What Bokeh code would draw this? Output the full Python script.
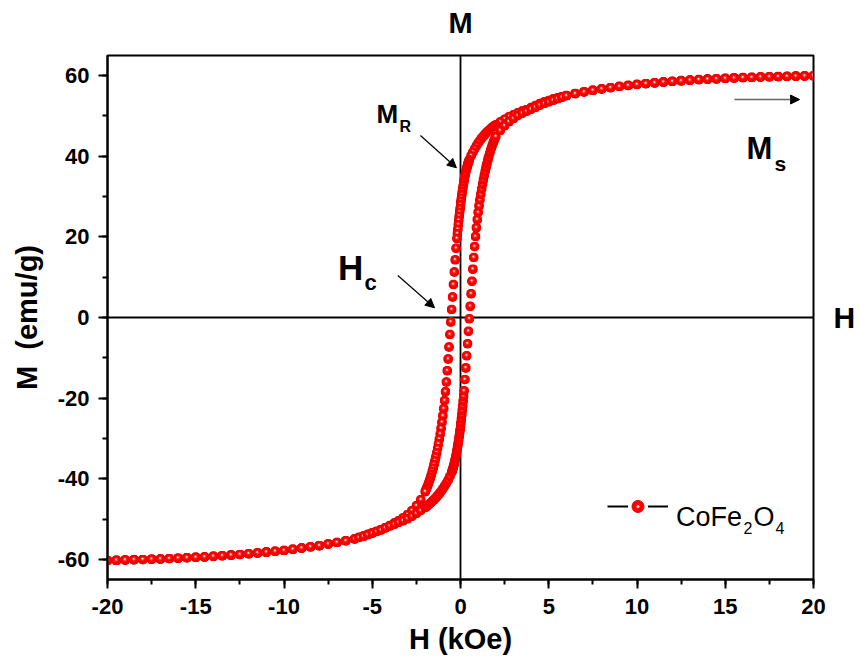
import base64
import numpy as np
from bokeh.plotting import figure
from bokeh.models import (Range1d, LinearAxis, FixedTicker, SingleIntervalTicker, Span,
                          Label, Arrow, NormalHead, ColumnDataSource, Legend, LegendItem)
from bokeh.core.properties import value
from bokeh.embed import file_html
from bokeh.resources import INLINE

FONT = "Liberation Sans"

# ---- hysteresis loop of CoFe2O4: field sweep +20 -> -20 kOe (descending) ----
H_down = [20, 19.5, 19, 18.5, 18, 17.5, 17, 16.5, 16, 15.5, 15, 14.5, 14, 13.5, 13, 12.5, 12,
          11.5, 11, 10.5, 10, 9.5, 9, 8.5, 8, 7.5, 7, 6.5, 6,
          5.75, 5.5, 5.25, 5, 4.75, 4.5, 4.25, 4, 3.75, 3.5, 3.25, 3, 2.75, 2.5, 2.25, 2,
          1.9, 1.8, 1.7, 1.6, 1.5, 1.4, 1.3, 1.2, 1.1, 1.0, 0.9, 0.8, 0.7, 0.6, 0.5,
          0.475, 0.45, 0.425, 0.4, 0.375, 0.35, 0.325, 0.3, 0.275, 0.25, 0.225, 0.2, 0.175,
          0.15, 0.125, 0.1, 0.075, 0.05, 0.025, 0, -0.025, -0.05, -0.075, -0.1, -0.125,
          -0.15, -0.175, -0.2,
          -0.25, -0.3, -0.35, -0.4, -0.45, -0.5, -0.55, -0.6, -0.65, -0.7, -0.75, -0.8,
          -0.85, -0.9, -0.95, -1.0, -1.05, -1.1, -1.15, -1.2, -1.25, -1.3, -1.35, -1.4,
          -1.45, -1.5, -1.55, -1.6, -1.65, -1.7, -1.75, -1.8, -1.85, -1.9, -1.95, -2.0,
          -2.25, -2.5, -2.75, -3, -3.25, -3.5, -3.75, -4, -4.25, -4.5, -4.75, -5, -5.25,
          -5.5, -5.75, -6,
          -6.5, -7, -7.5, -8, -8.5, -9, -9.5, -10, -10.5, -11, -11.5, -12, -12.5, -13,
          -13.5, -14, -14.5, -15, -15.5, -16, -16.5, -17, -17.5, -18, -18.5, -19, -19.5, -20]
M_down = [60.0, 59.95, 59.9, 59.85, 59.8, 59.75, 59.7, 59.6, 59.55, 59.45, 59.35, 59.25, 59.15,
          59.05, 58.9, 58.8, 58.6, 58.45, 58.25, 58.05, 57.85, 57.6, 57.35, 57.05, 56.75, 56.4,
          56.0, 55.6, 55.1,
          54.8, 54.5, 54.2, 53.85, 53.5, 53.1, 52.6, 52.1, 51.6, 51.2, 50.8, 50.3, 49.8, 49.2,
          48.5, 47.8,
          47.5, 47.2, 46.8, 46.4, 46.0, 45.5, 45.0, 44.5, 43.9, 43.3, 42.6, 41.8, 41.0, 40.1, 39.1,
          38.8, 38.5, 38.2, 37.8, 37.4, 37.0, 36.6, 36.1, 35.6, 35.1, 34.5, 33.9, 33.3, 32.6,
          31.9, 31.2, 30.4, 29.6, 28.8, 27.9, 27.0, 26.1, 25.1, 24.1, 23.0, 21.9, 20.8, 19.6,
          17.2, 14.3, 11.3, 8.2, 5.1, 2.0, -1.1, -4.2, -7.3, -10.3, -13.2, -16.0, -18.4, -20.6,
          -22.6, -24.4, -26.0, -27.5, -28.9, -30.2, -31.4, -32.5, -33.6, -34.6, -35.6, -36.5,
          -37.4, -38.2, -39.0, -39.7, -40.4, -41.0, -41.6, -42.2, -42.7, -43.2,
          -45.2, -46.7, -47.9, -48.9, -49.7, -50.4, -51.0, -51.6, -52.1, -52.6, -53.0, -53.4,
          -53.8, -54.2, -54.5, -54.9,
          -55.4, -55.8, -56.2, -56.6, -56.9, -57.2, -57.5, -57.8, -58.0, -58.2, -58.4, -58.6,
          -58.8, -58.95, -59.1, -59.25, -59.4, -59.5, -59.6, -59.7, -59.8, -59.9, -59.95,
          -60.05, -60.1, -60.15, -60.25, -60.3]

# ---- return sweep -20 -> +20 kOe (ascending) ----
H_up = [-20, -19.5, -19, -18.5, -18, -17.5, -17, -16.5, -16, -15.5, -15, -14.5, -14, -13.5,
        -13, -12.5, -12, -11.5, -11, -10.5, -10, -9.5, -9, -8.5, -8, -7.5, -7, -6.5, -6,
        -5.75, -5.5, -5.25, -5, -4.75, -4.5, -4.25, -4, -3.75, -3.5, -3.25, -3, -2.75, -2.5,
        -2.25, -2,
        -1.9, -1.8, -1.7, -1.6, -1.5, -1.4, -1.3, -1.2, -1.1, -1.0, -0.9, -0.8, -0.7, -0.6, -0.5,
        -0.475, -0.45, -0.425, -0.4, -0.375, -0.35, -0.325, -0.3, -0.275, -0.25, -0.225, -0.2,
        -0.175, -0.15, -0.125, -0.1, -0.075, -0.05, -0.025, 0, 0.025, 0.05, 0.075, 0.1, 0.125,
        0.15, 0.175, 0.2,
        0.25, 0.3, 0.35, 0.4, 0.45, 0.5, 0.55, 0.6, 0.65, 0.7, 0.75, 0.8, 0.85, 0.9, 0.95, 1.0,
        1.05, 1.1, 1.15, 1.2, 1.25, 1.3, 1.35, 1.4, 1.45, 1.5, 1.55, 1.6, 1.65, 1.7, 1.75, 1.8,
        1.85, 1.9, 1.95, 2.0,
        2.25, 2.5, 2.75, 3, 3.25, 3.5, 3.75, 4, 4.25, 4.5, 4.75, 5, 5.25, 5.5, 5.75, 6,
        6.5, 7, 7.5, 8, 8.5, 9, 9.5, 10, 10.5, 11, 11.5, 12, 12.5, 13, 13.5, 14, 14.5, 15,
        15.5, 16, 16.5, 17, 17.5, 18, 18.5, 19, 19.5, 20]
M_up = [-60.3, -60.25, -60.15, -60.1, -60.05, -59.95, -59.9, -59.8, -59.7, -59.6, -59.5, -59.4,
        -59.25, -59.1, -58.95, -58.8, -58.6, -58.4, -58.2, -58.0, -57.8, -57.5, -57.2, -56.9,
        -56.6, -56.2, -55.8, -55.4, -54.95,
        -54.6, -54.3, -53.9, -53.5, -53.1, -52.7, -52.2, -51.7, -51.3, -50.8, -50.4, -49.9,
        -49.3, -48.6, -47.9, -47.1,
        -46.8, -46.4, -46.0, -45.6, -45.2, -44.7, -44.2, -43.7, -43.1, -42.5, -41.8, -41.1,
        -40.3, -39.4, -38.4,
        -38.1, -37.8, -37.4, -37.0, -36.6, -36.2, -35.7, -35.2, -34.7, -34.2, -33.6, -33.0,
        -32.4, -31.7, -31.0, -30.3, -29.5, -28.7, -27.9, -27.0, -26.1, -25.1, -24.1, -23.0,
        -21.9, -20.7, -19.5, -18.2,
        -15.4, -12.5, -9.5, -6.5, -3.4, -0.3, 2.8, 5.9, 9.0, 12.0, 14.9, 17.6, 20.1, 22.3, 24.3,
        26.1, 27.7, 29.2, 30.6, 31.9, 33.1, 34.2, 35.3, 36.3, 37.3, 38.2, 39.1, 39.9, 40.7,
        41.4, 42.1, 42.7, 43.3, 43.9, 44.4, 44.9,
        46.4, 47.6, 48.6, 49.4, 50.1, 50.7, 51.2, 51.7, 52.2, 52.7, 53.1, 53.5, 53.9, 54.3,
        54.65, 55.0,
        55.5, 55.95, 56.35, 56.7, 57.0, 57.3, 57.55, 57.8, 58.0, 58.2, 58.4, 58.55, 58.7, 58.85,
        59.0, 59.1, 59.2, 59.3, 59.4, 59.5, 59.55, 59.65, 59.7, 59.75, 59.8, 59.85, 59.9, 59.95]

x_ticks = [-20, -15, -10, -5, 0, 5, 10, 15, 20]
y_ticks = [-60, -40, -20, 0, 20, 40, 60]

p = figure(width=860, height=664, x_range=Range1d(-20, 20), y_range=Range1d(-65, 65),
           output_backend="svg", toolbar_location=None,
           min_border_left=107, min_border_right=47, min_border_top=55, min_border_bottom=85)
p.background_fill_color = "white"
p.border_fill_color = "white"
p.grid.visible = False
p.outline_line_color = "black"
p.outline_line_width = 2

p.xaxis.ticker = SingleIntervalTicker(interval=5, num_minor_ticks=2)
p.yaxis.ticker = SingleIntervalTicker(interval=20, num_minor_ticks=2)
# plain hyphen-minus in tick labels
p.xaxis.major_label_overrides = {t: str(t) for t in x_ticks}
p.yaxis.major_label_overrides = {t: str(t) for t in y_ticks}
for ax in (p.xaxis[0], p.yaxis[0]):
    ax.axis_line_width = 2
    ax.axis_line_color = "black"
    ax.major_tick_line_width = 2
    ax.minor_tick_line_width = 2
    ax.major_tick_out = 9
    ax.major_tick_in = 0
    ax.minor_tick_out = 5
    ax.minor_tick_in = 0
    ax.major_label_text_font = FONT
    ax.major_label_text_font_style = "bold"
    ax.major_label_text_font_size = "22px"
    ax.major_label_text_color = "black"
    ax.axis_label_text_font = FONT
    ax.axis_label_text_font_style = "bold"
    ax.axis_label_text_font_size = "29px"
    ax.axis_label_text_color = "black"

p.xaxis.axis_label = "H (kOe)"
p.xaxis.major_label_standoff = 10
p.xaxis.axis_label_standoff = 6
p.yaxis.axis_label = "M\u00a0 (emu/g)"
p.yaxis.major_label_standoff = 9
p.yaxis.axis_label_standoff = 12

# axis names at the ends of the zero lines
top_axis = LinearAxis(ticker=FixedTicker(ticks=[]), axis_label="M", axis_line_color=None,
                      major_tick_line_color=None, minor_tick_line_color=None,
                      axis_label_text_font=FONT, axis_label_text_font_style="bold",
                      axis_label_text_font_size="29px", axis_label_text_color="black",
                      axis_label_standoff=17)
p.add_layout(top_axis, "above")
right_axis = LinearAxis(ticker=FixedTicker(ticks=[]), axis_label="H", axis_line_color=None,
                        major_tick_line_color=None, minor_tick_line_color=None,
                        axis_label_text_font=FONT, axis_label_text_font_style="bold",
                        axis_label_text_font_size="30px", axis_label_text_color="black",
                        axis_label_standoff=20, axis_label_orientation="horizontal")
p.add_layout(right_axis, "right")

# zero lines
p.add_layout(Span(location=0, dimension="height", line_color="black", line_width=1.8,
                  level="underlay"))
p.add_layout(Span(location=0, dimension="width", line_color="black", line_width=1.8,
                  level="underlay"))

# shaded sphere marker
sphere_svg = (
    "<svg xmlns='http://www.w3.org/2000/svg' width='40' height='40' viewBox='0 0 40 40'>"
    "<defs><radialGradient id='g' cx='0.5' cy='0.5' r='0.5' fx='0.46' fy='0.4'>"
    "<stop offset='0' stop-color='#ffffff'/>"
    "<stop offset='0.1' stop-color='#ffcccc'/>"
    "<stop offset='0.3' stop-color='#ff2a2a'/>"
    "<stop offset='0.5' stop-color='#ff0000'/>"
    "<stop offset='0.9' stop-color='#f20000'/>"
    "<stop offset='1' stop-color='#d40000'/>"
    "</radialGradient></defs>"
    "<circle cx='20' cy='20' r='20' fill='url(#g)'/></svg>"
)
sphere_uri = "data:image/svg+xml;base64," + base64.b64encode(sphere_svg.encode()).decode()

loop = ColumnDataSource(dict(H=H_down + H_up, M=M_down + M_up))
p.image_url(url=value(sphere_uri), x="H", y="M", w=10, h=10, w_units="screen",
            h_units="screen", anchor="center", source=loop)

# legend sample: line, gap, ball
nan_src = ColumnDataSource(dict(x=[np.nan], y=[np.nan]))
lg_line = p.line("x", "y", source=nan_src, line_color="black", line_width=2)
lg_gap = p.scatter("x", "y", source=nan_src, marker="circle", fill_color="white",
                   line_color="white", line_width=8)
lg_ball = p.scatter("x", "y", source=nan_src, marker="circle", fill_color="#ff0000",
                    line_color="#e00000", line_width=1)
lg_hi = p.scatter("x", "y", source=nan_src, marker="dot", fill_color="#ffd0d0",
                  line_color="#ffd0d0", line_width=2)
legend = Legend(items=[LegendItem(label=" ", renderers=[lg_line, lg_gap, lg_ball, lg_hi])],
                location=(500, 58), glyph_width=61, glyph_height=30, padding=0, margin=0,
                spacing=0, label_standoff=0, label_width=0, label_text_font_size="8px",
                border_line_color=None, background_fill_alpha=0)
p.add_layout(legend)


def put(x, y, text, size, bold=True):
    p.add_layout(Label(x=x, y=y, text=text, text_font=FONT,
                       text_font_style="bold" if bold else "normal",
                       text_font_size=size, text_color="black",
                       text_align="left", text_baseline="alphabetic"))


# legend text CoFe2O4
put(12.21, -49.4, "CoFe", "27px", bold=False)
put(16.03, -52.1, "2", "16px", bold=False)
put(16.6, -49.4, "O", "27px", bold=False)
put(17.85, -52.1, "4", "16px", bold=False)

# annotations
put(-4.76, 50.6, "M", "26px")
put(-3.46, 47.4, "R", "16px")
put(-6.94, 12.4, "H", "35px")
put(-5.44, 8.68, "c", "22px")
put(16.2, 41.9, "M", "31px")
put(17.79, 38.2, "s", "21px")

p.add_layout(Arrow(x_start=-2.27, y_start=45.15, x_end=-0.23, y_end=37.14,
                   line_color="black", line_width=1.2,
                   end=NormalHead(size=9, fill_color="black", line_color="black")))
p.add_layout(Arrow(x_start=-3.55, y_start=10.42, x_end=-1.47, y_end=2.41,
                   line_color="black", line_width=1.2,
                   end=NormalHead(size=9, fill_color="black", line_color="black")))
p.add_layout(Arrow(x_start=15.52, y_start=54.08, x_end=19.21, y_end=54.08,
                   line_color="#666666", line_width=1.5,
                   end=NormalHead(size=9, fill_color="black", line_color="black")))

open("out.html", "w").write(file_html(p, INLINE))
